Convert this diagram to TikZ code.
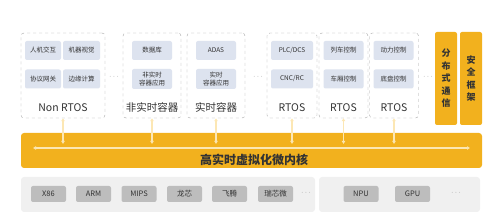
\documentclass[tikz,border=0pt]{standalone}
\usepackage{fontspec}
\setmainfont{Noto Sans CJK SC}
\usetikzlibrary{arrows.meta}
\definecolor{kernelorange}{HTML}{F2B11E}
\definecolor{boxblue}{HTML}{DDE3EF}
\definecolor{chipgrey}{HTML}{BDBDBD}
\definecolor{panelgrey}{HTML}{F0F0F0}
\definecolor{arrowcream}{HTML}{FCE7B4}
\definecolor{textdark}{HTML}{333333}
\begin{document}
\begin{tikzpicture}[x=1pt,y=-1pt,
    vmbox/.style={draw=gray!70,dashed,rounded corners=3pt,fill=white,minimum height=85pt,inner sep=0pt},
    appbox/.style={fill=boxblue,rounded corners=2pt,minimum height=19pt,inner sep=0pt,font=\fontsize{6.5}{7.5}\selectfont,text=textdark,align=center},
    vmlabel/.style={font=\fontsize{10.5}{12}\selectfont,text=textdark},
    sidebox/.style={fill=kernelorange,rounded corners=2pt,minimum width=22pt,minimum height=93pt,inner sep=0pt,font=\fontsize{9}{12.5}\selectfont\bfseries,text=textdark,align=center},
    chip/.style={fill=chipgrey,rounded corners=2pt,minimum width=35pt,minimum height=16pt,inner sep=0pt,font=\fontsize{7.5}{8}\selectfont,text=textdark},
    panel/.style={fill=panelgrey,rounded corners=3pt,minimum height=35pt,inner sep=0pt},
    dots/.style={font=\fontsize{7}{8}\selectfont,text=gray},
    link/.style={arrowcream,line width=1.6pt,{Latex[length=3pt,width=4pt]}-{Latex[length=3pt,width=4pt]}}]
  \useasboundingbox (0,0) rectangle (500,221);
  %dashed containers
  \node[vmbox,minimum width=84pt] (nonrtos) at (63,75.5) {};
  \node[vmbox,minimum width=58pt] (nrtc) at (152,75.5) {};
  \node[vmbox,minimum width=58pt] (rtc) at (216,75.5) {};
  \node[vmbox,minimum width=50pt] (rtosa) at (292,75.5) {};
  \node[vmbox,minimum width=49pt] (rtosb) at (343.5,75.5) {};
  \node[vmbox,minimum width=49pt] (rtosc) at (394,75.5) {};
  %applications
  \node[appbox,minimum width=36pt] (hmi) at (43,50.5) {人机交互};
  \node[appbox,minimum width=37pt] (vision) at (81.5,50.5) {机器视觉};
  \node[appbox,minimum width=36pt] (gateway) at (43,79) {协议网关};
  \node[appbox,minimum width=37pt] (edge) at (81.5,79) {边缘计算};
  \node[appbox,minimum width=40pt] (db) at (152,50.5) {数据库};
  \node[appbox,minimum width=40pt,minimum height=20pt] (nrtapp) at (152,79) {非实时\\容器应用};
  \node[appbox,minimum width=40pt] (adas) at (216,50.5) {ADAS};
  \node[appbox,minimum width=40pt,minimum height=20pt] (rtapp) at (216,79) {实时\\容器应用};
  \node[appbox,minimum width=42pt] (plc) at (292,50.5) {PLC/DCS};
  \node[appbox,minimum width=42pt] (cnc) at (292,79) {CNC/RC};
  \node[appbox,minimum width=40pt] (train) at (343.5,50.5) {列车控制};
  \node[appbox,minimum width=40pt] (car) at (343.5,79) {车厢控制};
  \node[appbox,minimum width=40pt] (power) at (393.5,50.5) {动力控制};
  \node[appbox,minimum width=40pt] (chassis) at (393.5,79) {底盘控制};
  %labels
  \node[vmlabel] (lnonrtos) at (63,107.5) {Non RTOS};
  \node[vmlabel] (lnrtc) at (152,107.5) {非实时容器};
  \node[vmlabel] (lrtc) at (216,107.5) {实时容器};
  \node[vmlabel] (lrtosa) at (292,107.5) {RTOS};
  \node[vmlabel] (lrtosb) at (343.5,107.5) {RTOS};
  \node[vmlabel] (lrtosc) at (394,107.5) {RTOS};
  \node[dots] (dotsa) at (114,77) {$\cdots$};
  \node[dots] (dotsb) at (258,77) {$\cdots$};
  \node[dots] (dotsc) at (428,77) {$\cdots$};
  %side services
  \node[sidebox] (comm) at (446,78.5) {分\\布\\式\\通\\信};
  \node[sidebox] (safety) at (471,78.5) {安\\全\\框\\架};
  %kernel
  \node[fill=kernelorange,rounded corners=3pt,minimum width=461pt,minimum height=35pt,inner sep=0pt] (kernel) at (251.5,150.5) {};
  \node[font=\fontsize{12}{14}\selectfont\bfseries,text=textdark] (lkernel) at (254,159.5) {高实时虚拟化微内核};
  \coordinate (busl) at (33,148);
  \coordinate (busr) at (470,148);
  \draw[link] (busl) -- (busr);
  \foreach \vm in {nonrtos,nrtc,rtc,rtosa,rtosb,rtosc}
    \draw[link] (\vm.south) -- (\vm.south |- 0,144);
  %hardware
  \node[panel,minimum width=294pt] (cpupanel) at (168,194.5) {};
  \node[panel,minimum width=161pt] (accpanel) at (399.5,194.5) {};
  \foreach \cx/\nm/\lbl in {48.5/xeightsix/X86,93.5/arm/ARM,139/mips/MIPS,184.5/loongson/龙芯,229.5/phytium/飞腾,275.5/rockchip/瑞芯微,361/npu/NPU,412.5/gpu/GPU}
    \node[chip] (\nm) at (\cx,194) {\lbl};
  \node[dots] (dotsd) at (306,193) {$\cdots$};
  \node[dots] (dotse) at (456,193) {$\cdots$};
\end{tikzpicture}
\end{document}
